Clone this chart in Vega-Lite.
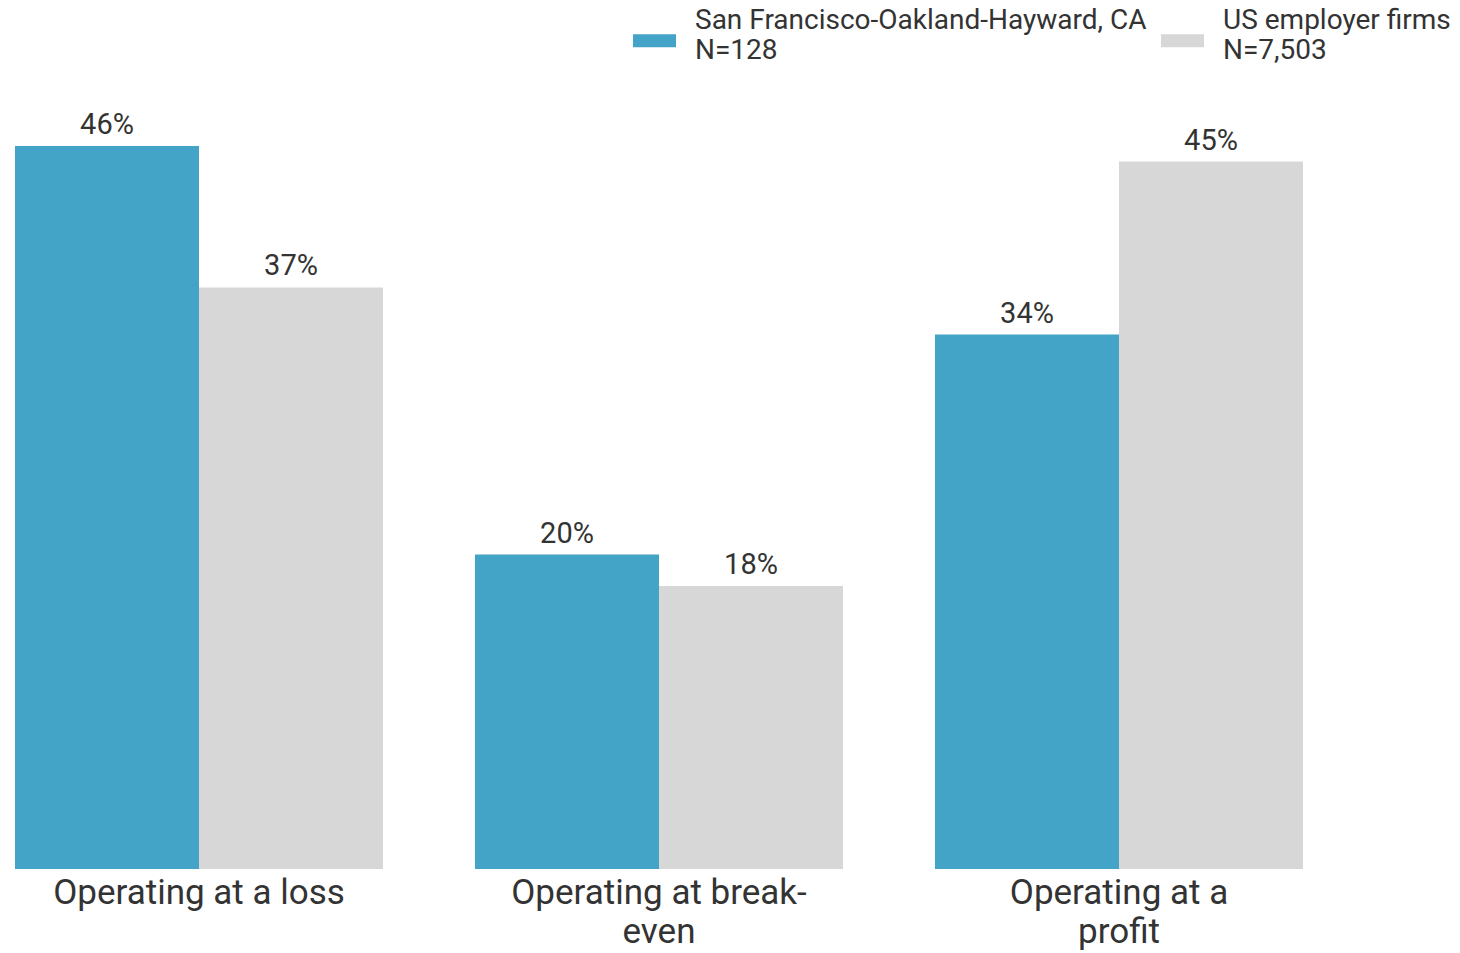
{
  "$schema": "https://vega.github.io/schema/vega-lite/v6.json",
  "autosize": "none",
  "width": 1288,
  "height": 769,
  "padding": {"left": 15, "top": 100, "right": 157, "bottom": 84},
  "background": "white",
  "config": {"view": {"stroke": null}, "font": "Roboto"},
  "data": {"values": [
    {"status": "Operating at a loss", "group": "San Francisco-Oakland-Hayward, CA|N=128", "pct": 0.46},
    {"status": "Operating at a loss", "group": "US employer firms|N=7,503", "pct": 0.37},
    {"status": "Operating at break-even", "group": "San Francisco-Oakland-Hayward, CA|N=128", "pct": 0.20},
    {"status": "Operating at break-even", "group": "US employer firms|N=7,503", "pct": 0.18},
    {"status": "Operating at a profit", "group": "San Francisco-Oakland-Hayward, CA|N=128", "pct": 0.34},
    {"status": "Operating at a profit", "group": "US employer firms|N=7,503", "pct": 0.45}
  ]},
  "encoding": {
    "x": {"field": "status", "type": "nominal", "sort": null,
      "scale": {"paddingInner": 0.2, "paddingOuter": 0},
      "axis": {"title": null, "domain": false, "ticks": false, "labelAngle": 0,
        "labelFont": "Roboto", "labelFontSize": 35, "labelColor": "#333333",
        "labelPadding": 6, "labelLineHeight": 39, "labelBaseline": "top", "labelLimit": 0,
        "labelExpr": "datum.label == 'Operating at break-even' ? ['Operating at break-', 'even'] : datum.label == 'Operating at a profit' ? ['Operating at a', 'profit'] : datum.label"}},
    "xOffset": {"field": "group", "type": "nominal", "sort": null, "scale": {"paddingInner": 0, "paddingOuter": 0}},
    "y": {"field": "pct", "type": "quantitative", "scale": {"domain": [0, 0.4892], "nice": false}, "axis": null}
  },
  "layer": [
    {
      "mark": {"type": "bar"},
      "encoding": {
        "color": {"field": "group", "type": "nominal", "sort": null,
          "scale": {"range": ["#43A4C8", "#D7D7D7"]},
          "legend": {"title": null, "orient": "none", "direction": "horizontal",
            "legendX": 618, "legendY": -101,
            "symbolType": "M-1,0.63H1V1.23H-1Z", "symbolSize": 1849, "symbolStrokeWidth": 0,
            "symbolOffset": 0, "labelOffset": 19, "columnPadding": 14,
            "labelFont": "Roboto", "labelFontSize": 28, "labelColor": "#333333",
            "labelLineHeight": 30, "labelLimit": 0,
            "labelExpr": "split(datum.label, '|')"}}
      }
    },
    {
      "mark": {"type": "text", "baseline": "alphabetic", "dy": -12, "fontSize": 29, "font": "Roboto", "color": "#333333"},
      "encoding": {"text": {"field": "pct", "type": "quantitative", "format": ".0%"},
        "detail": {"field": "group"}}
    }
  ]
}
